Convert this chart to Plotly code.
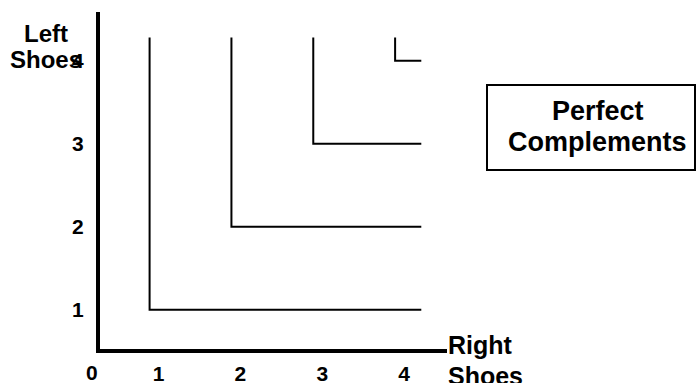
import plotly.graph_objects as go

# indifference curves for perfect complements: corner at (k, k)
corners = [1, 2, 3, 4]
curve_top = 4.28      # vertical arms run up to here
curve_right = 4.32    # horizontal arms run out to here

x_ticks = [1, 2, 3, 4]
y_ticks = [1, 2, 3, 4]
tick_text = ["1", "2", "3", "4"]

W, H = 697, 383
ML, MR, MT, MB = 100, 250, 12, 34
PW, PH = W - ML - MR, H - MT - MB


def px(x):
    return (x - ML) / PW


def py(y):
    return (H - MB - y) / PH


fig = go.Figure()
for k in corners:
    fig.add_trace(go.Scatter(
        x=[k, k, curve_right],
        y=[curve_top, k, k],
        mode="lines",
        line=dict(color="black", width=2),
        hoverinfo="skip",
        showlegend=False,
    ))

bold = dict(family="Liberation Sans, Arial, sans-serif", color="black", weight="bold")

fig.update_xaxes(
    range=[0.394, 4.634],
    showline=True, linewidth=4, linecolor="black",
    showgrid=False, zeroline=False, ticks="", automargin=False,
    tickvals=x_ticks, ticktext=tick_text,
    tickfont=dict(size=21, **bold),
    ticklabelshift=9, ticklabelstandoff=3,
)
fig.update_yaxes(
    range=[0.528, 4.588],
    showline=True, linewidth=4, linecolor="black",
    showgrid=False, zeroline=False, ticks="", automargin=False,
    tickvals=y_ticks, ticktext=tick_text,
    tickfont=dict(size=21, **bold),
    ticklabelstandoff=8,
)

labels = [
    ("Left", 46, 33, "center", 24),
    ("Shoes", 46, 59, "center", 24),
    ("Right", 446, 345, "left", 25),
    ("Shoes", 446, 376, "left", 25),
    ("0", 92, 372, "center", 21),
    ("Perfect", 598, 111, "center", 27),
    ("Complements", 597, 142, "center", 27),
]
for txt, x, y, anchor, size in labels:
    fig.add_annotation(
        text=txt, x=px(x), y=py(y), xref="paper", yref="paper",
        xanchor=anchor, yanchor="middle", showarrow=False,
        font=dict(size=size, **bold),
    )

fig.add_shape(
    type="rect", xref="paper", yref="paper",
    x0=px(487), x1=px(695), y0=py(170), y1=py(85),
    line=dict(color="black", width=2), fillcolor="rgba(0,0,0,0)",
)

fig.update_layout(
    width=W, height=H,
    margin=dict(l=ML, r=MR, t=MT, b=MB, autoexpand=False),
    plot_bgcolor="white", paper_bgcolor="white",
    showlegend=False,
)

fig.write_html("out.html", config={"displayModeBar": False},
               post_script="document.body.style.margin='0';")
